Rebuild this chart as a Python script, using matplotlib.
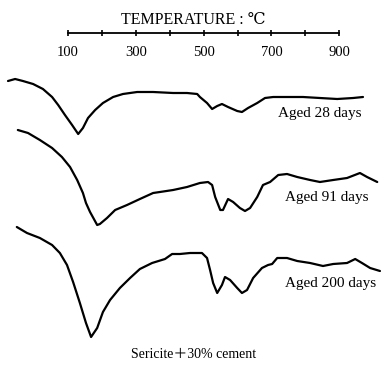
import matplotlib
matplotlib.use("Agg")
import matplotlib.pyplot as plt

plt.rcParams['font.family'] = ['Liberation Serif', 'DejaVu Serif', 'Noto Sans CJK JP']

# DTA curves: temperature (deg C) vs deflection (arbitrary, downward = endothermic)
t_28 = [-77, -56, -33, -3, 26, 53, 71, 91, 112, 130, 144, 159, 180, 203, 233, 262, 304, 351,
        410, 451, 481, 489, 510, 525, 540, 554, 572, 599, 613, 631, 658, 681, 705, 746, 793,
        843, 894, 941, 970]
y_28 = [81, 79, 81, 84, 89, 97, 105, 115, 125, 134, 128, 118, 110, 103, 97, 94, 92, 92,
        93, 93, 94, 97, 103, 109, 106, 104, 107, 111, 112, 108, 103, 98, 97, 97, 97,
        98, 99, 98, 97]

t_91 = [-48, -18, 17, 53, 82, 106, 127, 144, 153, 165, 186, 194, 215, 239, 274, 312, 351,
        371, 410, 451, 489, 513, 525, 534, 549, 557, 572, 587, 607, 622, 637, 658, 675, 696,
        720, 746, 776, 814, 843, 882, 923, 961, 982, 1012]
y_91 = [130, 133, 140, 148, 157, 167, 180, 193, 203, 212, 225, 224, 218, 210, 205, 199, 193,
        192, 190, 187, 183, 182, 185, 197, 210, 210, 199, 202, 208, 211, 208, 197, 185, 182,
        175, 174, 177, 180, 182, 180, 178, 173, 177, 182]

t_200 = [-51, -21, 17, 53, 76, 97, 115, 135, 153, 168, 186, 203, 224, 253, 283, 312, 348,
         386, 407, 430, 460, 495, 510, 519, 528, 540, 554, 563, 578, 599, 613, 628, 646, 672,
         690, 702, 717, 746, 776, 814, 852, 882, 923, 947, 967, 991, 1020]
y_200 = [227, 233, 238, 245, 253, 265, 282, 303, 323, 337, 328, 312, 300, 288, 278, 269, 263,
         259, 254, 254, 253, 253, 258, 270, 283, 293, 285, 277, 280, 288, 293, 290, 278, 268,
         265, 264, 258, 258, 261, 263, 266, 264, 263, 259, 263, 268, 271]

labels = ["Aged 28 days", "Aged 91 days", "Aged 200 days"]
tick_values = [100, 200, 300, 400, 500, 600, 700, 800, 900]
tick_labels = ["100", "300", "500", "700", "900"]

fig = plt.figure(figsize=(3.83, 3.65), dpi=100)
ax = fig.add_axes([0, 0, 1, 1])
ax.set_xlim(-100.6, 1029)
ax.set_ylim(365, 0)

for t, y in [(t_28, y_28), (t_91, y_91), (t_200, y_200)]:
    ax.plot(t, y, color='black', linewidth=1.6, solid_capstyle='round',
            solid_joinstyle='round')

# temperature scale on top
for s in ['left', 'right', 'bottom']:
    ax.spines[s].set_visible(False)
ax.spines['top'].set_position(('data', 33))
ax.spines['top'].set_bounds(100, 900)
ax.spines['top'].set_linewidth(1.3)
ax.xaxis.set_ticks_position('top')
ax.set_xticks(tick_values)
ax.tick_params(axis='x', direction='inout', length=5, width=1.2, labeltop=False)
ax.set_yticks([])
for lab in tick_labels:
    ax.text(float(lab), 53, lab, ha='center', va='center', fontsize=10.5)
ax.text(469, 20, "TEMPERATURE : ℃", ha='center', va='center', fontsize=11.5)

ax.text(843, 113, labels[0], ha='center', va='center', fontsize=11)
ax.text(864, 197, labels[1], ha='center', va='center', fontsize=11)
ax.text(873, 283, labels[2], ha='center', va='center', fontsize=11)
ax.text(469, 355, "Sericite＋30% cement", ha='center', va='center', fontsize=10)

fig.savefig("out.png", dpi=100)
